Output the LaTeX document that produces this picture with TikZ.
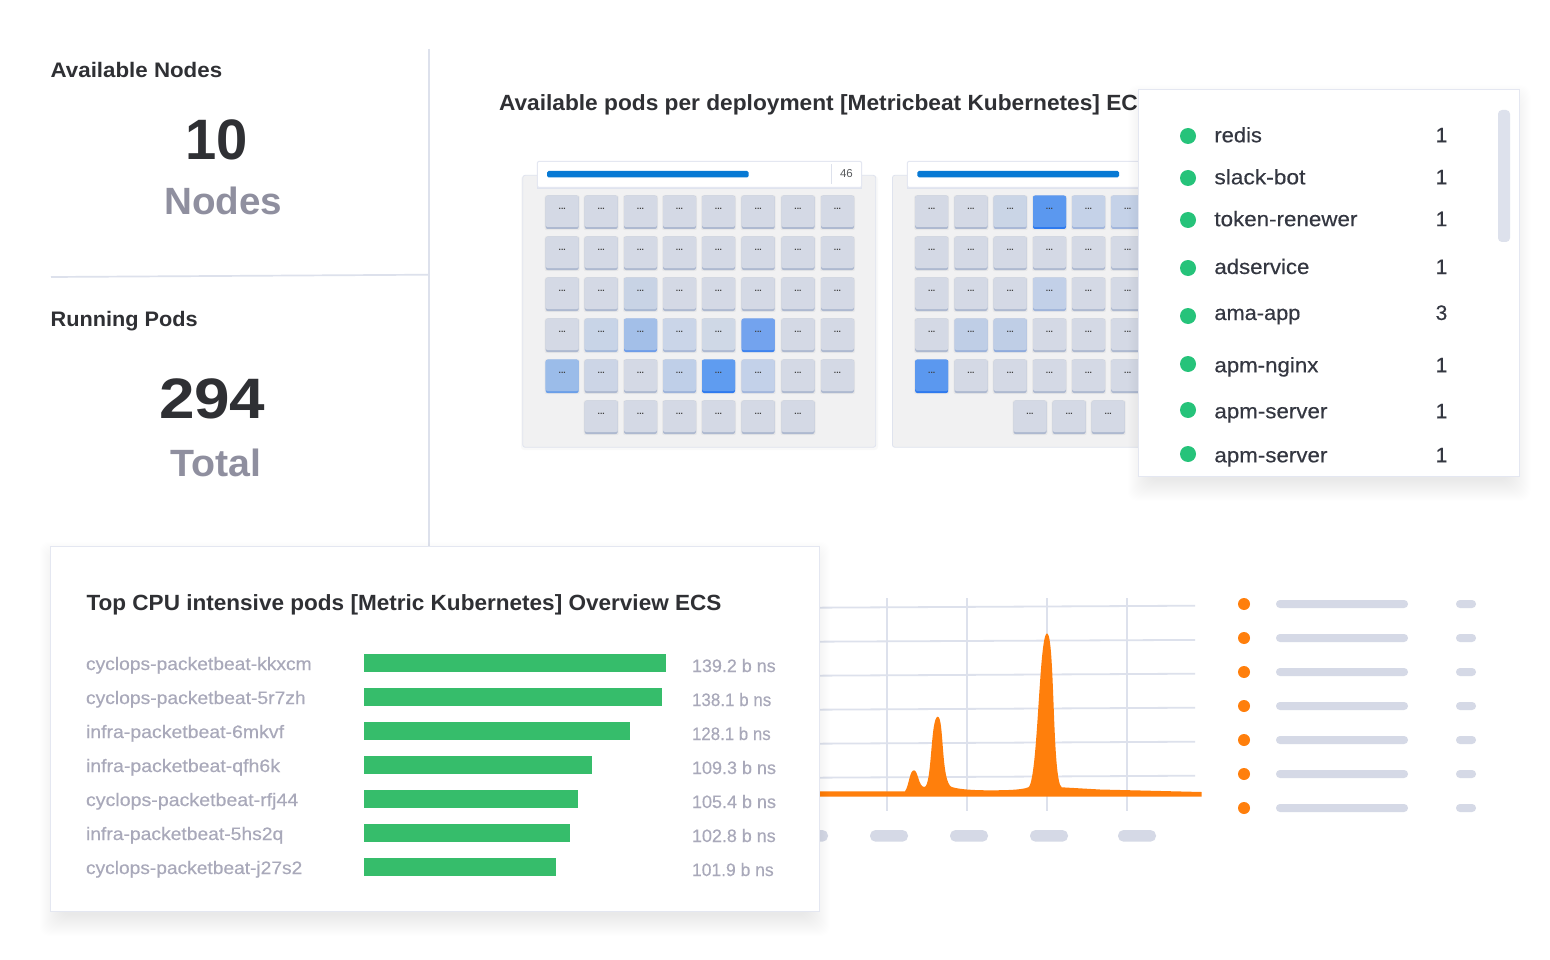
\documentclass[tikz,border=0pt]{standalone}
\usepackage{fontspec}
\usepackage{graphicx}
\setmainfont{Liberation Sans}
\newfontfamily\medfont[FakeBold=0.35]{Liberation Sans}
\definecolor{ink}{HTML}{2F3034}
\definecolor{inkb}{HTML}{343741}
\definecolor{greytxt}{HTML}{8F8F9F}
\definecolor{lbl}{HTML}{A9A9BA}
\definecolor{rule}{HTML}{DDE1EC}
\definecolor{pill}{HTML}{D5D9E6}
\definecolor{okgreen}{HTML}{36BD6B}
\definecolor{dotgreen}{HTML}{26C37A}
\definecolor{orng}{HTML}{FF7F0C}
\definecolor{panelbg}{HTML}{F1F1F2}
\definecolor{panelln}{HTML}{DFE3EE}
\definecolor{barblue}{HTML}{0779D4}
\definecolor{cardln}{HTML}{E4E7F1}
\tikzset{
  txt/.style={inner sep=0pt,outer sep=0pt,anchor=base west},
  panelbox/.style={fill=panelbg,draw=panelln,line width=0.8pt,rounded corners=2.5pt},
  headbox/.style={fill=white,draw=cardln,line width=1pt,rounded corners=2pt},
  bluebar/.style={fill=barblue,rounded corners=1.5pt},
  gridln/.style={draw=rule,line width=1.8pt},
  pillbar/.style={fill=pill,rounded corners=3.9pt},
  tinydots/.style={inner sep=0pt,font=\fontsize{8.5}{8.5}\selectfont\bfseries,text=black!75},
}
% name, x, baseline y, font, colour, width, text
\newcommand{\T}[7]{\node[txt,text=#5] (#1) at (#2,#3) {\resizebox{#6pt}{\height}{#4{}#7}};}
\newcommand{\FS}[1]{\fontsize{#1}{#1}\selectfont}
\newcommand{\softshadow}[4]{%
  \foreach \k in {1,...,22}{
    \fill[black,opacity=0.0032,rounded corners=10pt]
      ({#1-12+\k},{#2-6+\k}) rectangle ({#3+12-\k},{#4+26-\k});
  }}
\newcommand{\setcol}[5]{\expandafter\def\csname cf#1-#2-#3\endcsname{#4}\expandafter\def\csname ce#1-#2-#3\endcsname{#5}}
% pale
\setcol{1}{3}{3}{C8D3E5}{A9B8D2}
\setcol{1}{4}{2}{C8D4E7}{A3B8DA}
\setcol{1}{4}{3}{A3BFE8}{6F9DE8}
\setcol{1}{4}{4}{CAD5E8}{A9B8D6}
\setcol{1}{4}{5}{CFD8E6}{AEBAD2}
\setcol{1}{4}{6}{73A3EE}{3F83EE}
\setcol{1}{5}{1}{9BBCE9}{6B9FE8}
\setcol{1}{5}{2}{CCD5E6}{AEB9D0}
\setcol{1}{5}{4}{BFCFE8}{9DB3DA}
\setcol{1}{5}{5}{5F9CF0}{2F7AEE}
\setcol{1}{5}{6}{C3D1E9}{A2B6DC}
\setcol{2}{1}{3}{CAD5E6}{A9B8D6}
\setcol{2}{1}{4}{5B98EF}{2F7AEE}
\setcol{2}{1}{5}{C5D2E8}{A2B6DC}
\setcol{2}{1}{6}{C5D2E8}{A2B6DC}
\setcol{2}{3}{4}{C2D0E8}{9FB4DA}
\setcol{2}{4}{2}{BFCEE6}{9DB3DA}
\setcol{2}{4}{3}{BFCEE6}{8FABDC}
\setcol{2}{5}{1}{5B98EF}{2F7AEE}
% panel, row, col, x, y
\newcommand{\tile}[5]{%
  \ifcsname cf#1-#2-#3\endcsname
    \definecolor{tf}{HTML}{\csname cf#1-#2-#3\endcsname}\definecolor{te}{HTML}{\csname ce#1-#2-#3\endcsname}%
  \else
    \definecolor{tf}{HTML}{D4D9E5}\definecolor{te}{HTML}{AEB9D0}%
  \fi
  \fill[black,opacity=0.04,rounded corners=2pt] ({#4-1},{#5-0.5}) rectangle ({#4+34},{#5+34.5});
  \fill[te,rounded corners=2pt] (#4,#5) rectangle ({#4+33},{#5+33.3});
  \fill[tf,rounded corners=2pt] (#4,#5) rectangle ({#4+33},{#5+31.3});
  \node[tinydots] (t#1-#2-#3) at ({#4+16.5},{#5+13}) {...};
}
\begin{document}
\begin{tikzpicture}[x=1pt,y=-1pt]
\useasboundingbox (0,0) rectangle (1550,960);
\fill[white] (0,0) rectangle (1550,960);

% left column
\coordinate (vd1) at (429,49); \coordinate (vd2) at (429,546);
\coordinate (hd1) at (51,277); \coordinate (hd2) at (429,274.7);
\draw[draw=rule,line width=2pt] (vd1) -- (vd2);
\draw[draw=rule,line width=1.7pt] (hd1) -- (hd2);
\T{tAN}{50.7}{78}{\FS{21}\bfseries}{ink}{171.5}{Available Nodes}
\T{n10}{185}{160}{\FS{57}\bfseries}{ink}{62.5}{10}
\T{tNodes}{164.2}{214.5}{\FS{38}\bfseries}{greytxt}{118}{Nodes}
\T{tRP}{50.7}{326}{\FS{21}\bfseries}{ink}{147}{Running Pods}
\T{n294}{159}{418}{\FS{57}\bfseries}{ink}{106.5}{294}
\T{tTotal}{170.5}{476}{\FS{38}\bfseries}{greytxt}{91}{Total}

% title
\T{tAP}{499}{110.5}{\FS{22}\bfseries}{ink}{654}{Available pods per deployment [Metricbeat Kubernetes] ECS}

% pods panel 1
\fill[black,opacity=0.025,rounded corners=3pt] (521,176) rectangle (878,450);
\draw[panelbox] (522.7,175.3) rectangle (875.7,447.3);
\fill[panelln] (537.3,162) rectangle (861.7,189);
\draw[headbox] (537.3,161.3) rectangle (861.7,187.5);
\fill[bluebar] (547,171) rectangle (748.7,177.3);
\coordinate (hdA) at (831.3,164.5); \coordinate (hdB) at (831.3,184);
\draw[draw=rule,line width=0.8pt] (hdA) -- (hdB);
\node[txt,text=ink!80] (n46) at (840,178) {\FS{11.5}46};
\foreach \r/\ry in {1/195.7,2/236.7,3/277.7,4/318.7,5/359.7}{
  \foreach \c/\cx in {1/545.7,2/584.7,3/624,4/663,5/702,6/741.7,7/781.5,8/821}{
    \tile{1}{\r}{\c}{\cx}{\ry}
  }
}
\foreach \c/\cx in {2/584.7,3/624,4/663,5/702,6/741.7,7/781.5}{
  \tile{1}{6}{\c}{\cx}{400.7}
}

% pods panel 2
\draw[panelbox] (892.4,175.3) rectangle (1200,447.3);
\fill[panelln] (907.3,162) rectangle (1200,189);
\draw[headbox] (907.3,161.3) rectangle (1200,187.5);
\fill[bluebar] (917.3,171) rectangle (1119,177.3);
\foreach \r/\ry in {1/195.7,2/236.7,3/277.7,4/318.7,5/359.7}{
  \foreach \c/\cx in {1/915.2,2/954.5,3/993.7,4/1033,5/1072,6/1111.2}{
    \tile{2}{\r}{\c}{\cx}{\ry}
  }
}
\foreach \c/\cx in {1/1013.5,2/1052.7,3/1091.7}{
  \tile{2}{6}{\c}{\cx}{400.7}
}

% popup list
\softshadow{1138.5}{90}{1519.5}{476}
\draw[fill=white,draw=cardln,line width=1pt] (1138.5,89.5) rectangle (1519.5,476);
\fill[fill=rule,rounded corners=4pt] (1498,110) rectangle (1510,242);
\foreach \i/\dy/\by/\w/\s/\n in {
  1/136/142.3/47.5/redis/1,
  2/178/184.3/91/slack-bot/1,
  3/220/226.2/143/token-renewer/1,
  4/268/274/95/adservice/1,
  5/316/320/86/ama-app/3,
  6/364/372.3/104/apm-nginx/1,
  7/410/418.3/113/apm-server/1,
  8/454/462.3/113/apm-server/1}{
  \fill[dotgreen] (1188,\dy) circle (8);
  \T{li\i}{1214.4}{\by}{\FS{21}\medfont}{inkb}{\w}{\s}
  \node[inner sep=0pt,anchor=base,text=inkb] (ln\i) at (1441.5,\by) {\FS{21}\medfont\n};
}

% chart
\foreach \x in {887,967,1047,1127}{
  \coordinate (va\x) at (\x,598); \coordinate (vb\x) at (\x,811);
  \draw[gridln] (va\x) -- (vb\x);
}
\foreach \i/\ya/\yb in {1/607.7/605.7,2/641.7/639.9,3/675.7/673.7,4/709.7/707.7,5/743.7/741.7,6/777.7/775.7}{
  \coordinate (ha\i) at (812,\ya); \coordinate (hb\i) at (1195,\yb);
  \draw[gridln] (ha\i) -- (hb\i);
}
\fill[orng] (812,791.3) -- (905,791.3)
  .. controls (909,786) and (909.5,770.3) .. (914,770.3)
  .. controls (918,770.3) and (918.5,787) .. (924.3,787)
  .. controls (932,787) and (930.5,716.7) .. (937.8,716.7)
  .. controls (944,716.7) and (941,783) .. (951.7,787)
  .. controls (960,789.6) and (975,790.3) .. (990,790.3)
  .. controls (1005,790.3) and (1022,790) .. (1028.3,787.3)
  .. controls (1038,782) and (1039,633.3) .. (1047,633.3)
  .. controls (1055,633.3) and (1052,782) .. (1061.7,787.3)
  -- (1100,789.5) -- (1201.7,792) -- (1201.7,796.7) -- (812,796.7) -- cycle;
\foreach \a/\b in {790/828,870/908,950/988,1030/1068,1118/1156}{
  \fill[fill=pill,rounded corners=5.5pt] (\a,830) rectangle (\b,841.7);
}
% legend
\foreach \yy in {604,638,672,706,740,774,808}{
  \fill[orng] (1244,\yy) circle (6);
  \fill[pillbar] (1276,{\yy-4}) rectangle (1408,{\yy+4});
  \fill[pillbar] (1456,{\yy-4}) rectangle (1476,{\yy+4});
}

% bar card
\softshadow{50.5}{546.5}{819}{911}
\draw[fill=white,draw=cardln,line width=1pt] (50.5,546.5) rectangle (819,911);
\T{tTC}{86.5}{610}{\FS{22}\bfseries}{ink}{635}{Top CPU intensive pods [Metric Kubernetes] Overview ECS}
\foreach \i/\y/\e/\wa/\la/\wb/\va in {
  1/654/666/225.7/cyclops-packetbeat-kkxcm/83.7/139.2 b ns,
  2/688/662/219.7/cyclops-packetbeat-5r7zh/79.3/138.1 b ns,
  3/722/630/198/infra-packetbeat-6mkvf/78.7/128.1 b ns,
  4/756/592/194/infra-packetbeat-qfh6k/84/109.3 b ns,
  5/790/578/212.3/cyclops-packetbeat-rfj44/84/105.4 b ns,
  6/824/570/197.3/infra-packetbeat-5hs2q/83.7/102.8 b ns,
  7/858/556/216.3/cyclops-packetbeat-j27s2/81.7/101.9 b ns}{
  \fill[okgreen] (364,\y) rectangle (\e,{\y+18});
  \T{bl\i}{86}{\y+16}{\FS{18}\medfont}{lbl}{\wa}{\la}
  \T{bv\i}{692}{\y+18}{\FS{18}\medfont}{lbl}{\wb}{\va}
}
\end{tikzpicture}
\end{document}
